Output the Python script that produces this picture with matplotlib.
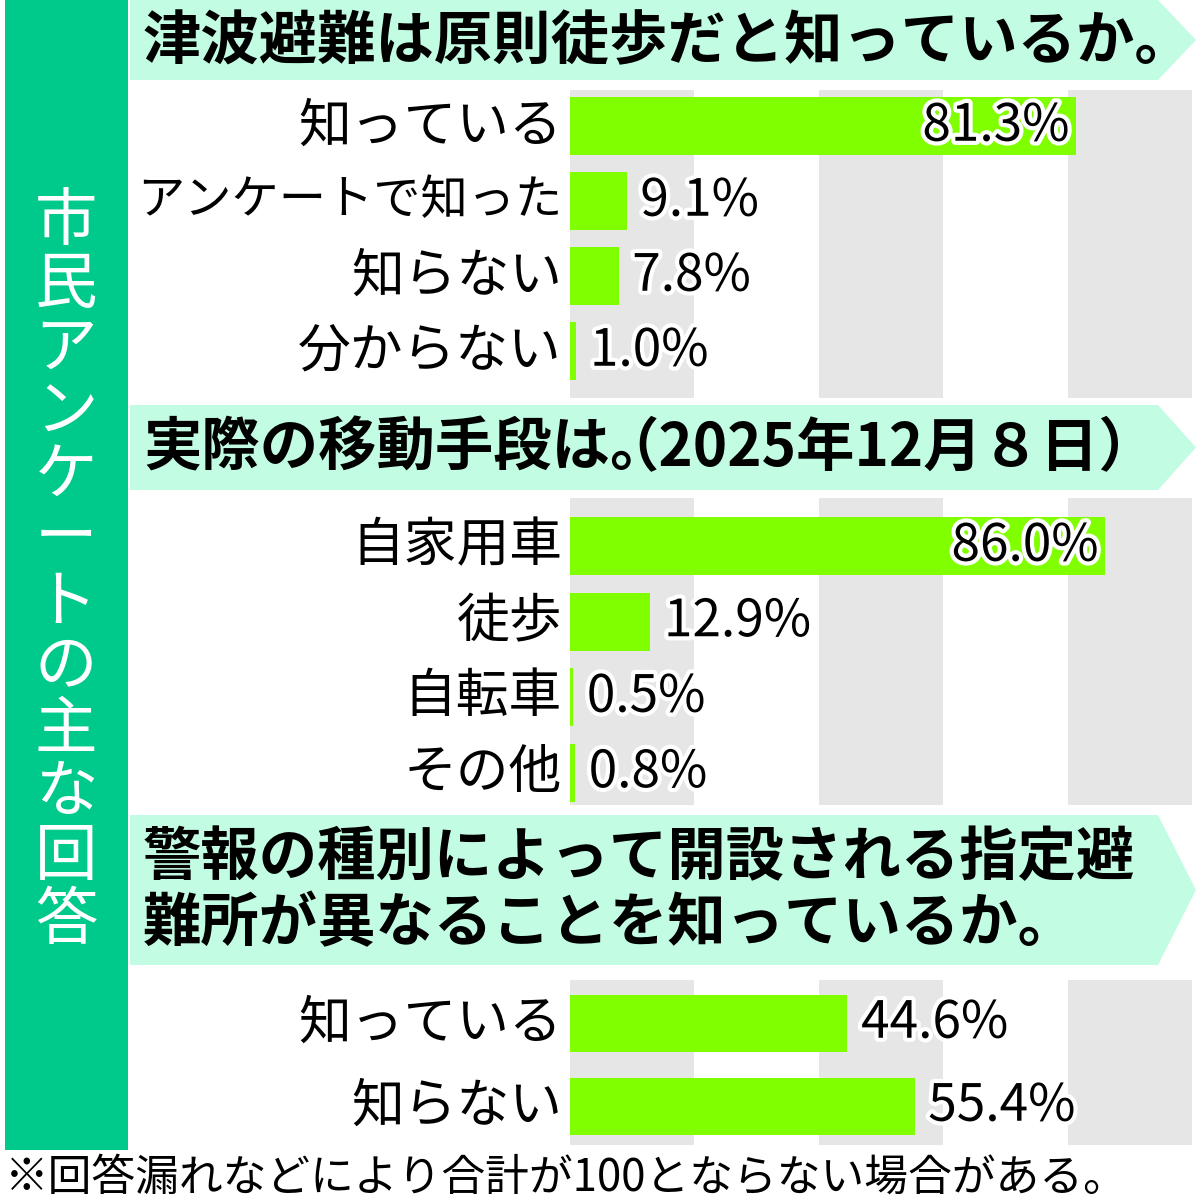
import matplotlib
matplotlib.use('Agg')
import matplotlib.pyplot as plt
from matplotlib.patches import Polygon, Rectangle
import matplotlib.patheffects as pe

plt.rcParams['font.family'] = ['Noto Sans CJK JP', 'DejaVu Sans']

# data
side_title = '市民アンケートの主な回答'
q1_title = '津波避難は原則徒歩だと知っているか。'
q1_labels = ['知っている', 'アンケートで知った', '知らない', '分からない']
q1_values = [81.3, 9.1, 7.8, 1.0]
q2_title = '実際の移動手段は。'
q2_date = '（2025年12月８日）'
q2_labels = ['自家用車', '徒歩', '自転車', 'その他']
q2_values = [86.0, 12.9, 0.5, 0.8]
q3_title = '警報の種別によって開設される指定避\n難所が異なることを知っているか。'
q3_labels = ['知っている', '知らない']
q3_values = [44.6, 55.4]
footnote = '※回答漏れなどにより合計が100とならない場合がある。'

BAND = '#00c98c'
MINT = '#c2fde3'
BAR = '#80ff00'
GRAY = '#e6e6e6'

W = H = 1200
fig = plt.figure(figsize=(12, 12), dpi=100)
bg = fig.add_axes([0, 0, 1, 1])
bg.set_xlim(0, W)
bg.set_ylim(H, 0)
bg.axis('off')

# left band with vertical title
bg.add_patch(Rectangle((5, 0), 123, 1150, color=BAND, lw=0))
for i, ch in enumerate(side_title):
    bg.text(66, 222 + i * 63.5, ch, color='white', fontsize=45,
            ha='center', va='center')


def banner(y0, y1, title, ty, lsp=1.0):
    ym = (y0 + y1) / 2
    bg.add_patch(Polygon([(130, y0), (1158, y0), (1196, ym), (1158, y1), (130, y1)],
                         closed=True, color=MINT, lw=0))
    bg.text(143, ty, title, fontsize=42, fontweight='bold', ha='left',
            va='center', linespacing=lsp)


banner(0, 80, q1_title, 42)
banner(405, 490, q2_title, 448)
bg.text(600, 448, q2_date, fontsize=42, fontweight='bold', ha='left', va='center')
banner(815, 965, q3_title, 891, lsp=1.12)


def section(top, bottom, first_c, step, bar_px, labels, values, small=()):
    n = len(values)
    ax = fig.add_axes([570 / W, 1 - bottom / H, 622 / W, (bottom - top) / H])
    pad_top = (first_c - top) / step
    total = (bottom - top) / step
    ax.set_xlim(0, 100)
    ax.set_ylim(total - pad_top, -pad_top)
    for x0 in (0, 40, 80):
        ax.axvspan(x0, x0 + 20, color=GRAY, lw=0, zorder=0)
    ax.barh(range(n), values, height=bar_px / step, color=BAR, lw=0, zorder=2)
    for i, (lab, v) in enumerate(zip(labels, values)):
        fs = 34 if lab in small else 38
        ax.text(-1.3, i, lab, fontsize=fs, ha='right', va='center', clip_on=False)
        txt = f'{v:.1f}%'
        if v > 70:
            t = ax.text(v - 1.0, i, txt, fontsize=37, ha='right', va='center', zorder=3)
        else:
            t = ax.text(v + 2.2, i, txt, fontsize=37, ha='left', va='center', zorder=3)
        t.set_path_effects([pe.withStroke(linewidth=6, foreground='white')])
    ax.axis('off')
    return ax


section(90, 398, 126, 75, 58, q1_labels, q1_values, small=('アンケートで知った',))
section(498, 805, 546, 75.5, 58, q2_labels, q2_values)
section(980, 1145, 1023, 83, 57, q3_labels, q3_values)

bg.text(5, 1178, footnote, fontsize=31.5, ha='left', va='center')

fig.savefig('out.png', dpi=100, facecolor='white')
